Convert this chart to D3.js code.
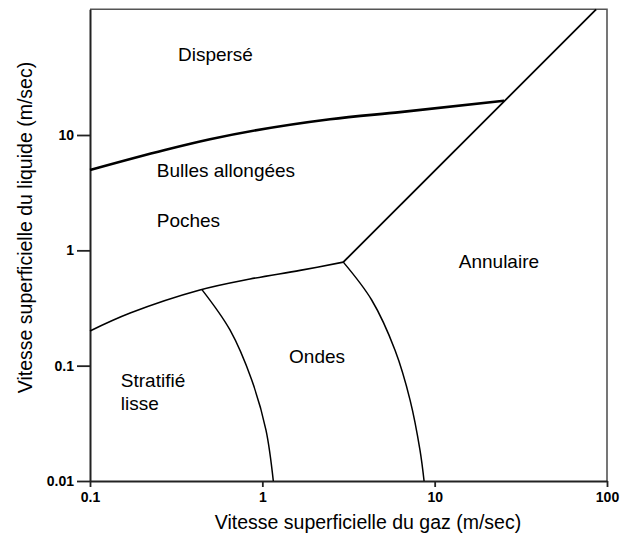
<!DOCTYPE html>
<html>
<head>
<meta charset="utf-8">
<script src="https://cdn.jsdelivr.net/npm/d3@7"></script>
<style>
  html, body { margin: 0; padding: 0; background: #fff; }
  svg { display: block; font-family: "Liberation Sans", Arial, sans-serif; }
</style>
</head>
<body>
<svg id="chart" width="620" height="533"></svg>
<script>
// ---- Data ----
const xTickValues = [0.1, 1, 10, 100];
const xTickLabels = ["0.1", "1", "10", "100"];
const yTickValues = [0.01, 0.1, 1, 10];
const yTickLabels = ["0.01", "0.1", "1", "10"];
const xDomain = [0.1, 100];
const yDomain = [0.01, 123];

// Dispersé / Bulles allongées boundary
const dispersedX = [0.1, 0.272, 0.497, 2.47, 6.3, 25.3];
const dispersedY = [4.97, 7.41, 9.18, 13.7, 15.8, 19.8];
// Annulaire boundary (straight line in log-log)
const annularX = [2.95, 86.5];
const annularY = [0.79, 123];
// Poches / Stratifié-Ondes boundary
const slugLowX = [0.1, 0.171, 0.434, 0.848, 1.655, 2.95];
const slugLowY = [0.2, 0.286, 0.453, 0.564, 0.67, 0.79];
// Stratifié lisse / Ondes boundary
const wavyX = [0.445, 0.649, 0.868, 1.05, 1.158];
const wavyY = [0.459, 0.204, 0.075, 0.0276, 0.01];
// Ondes / Annulaire boundary
const annLowX = [2.95, 4.31, 5.89, 7.2, 8.22, 8.68];
const annLowY = [0.79, 0.371, 0.136, 0.0503, 0.0185, 0.01];

// Regime labels (anchored at data coordinates)
const regimeNames = ["Dispersé", "Bulles allongées", "Poches", "Annulaire", "Ondes", "Stratifié", "lisse"];
const regimeX = [0.324, 0.244, 0.244, 13.8, 1.43, 0.151, 0.151];
const regimeY = [44, 4.3, 1.6, 0.707, 0.105, 0.065, 0.0413];

const xTitle = "Vitesse superficielle du gaz (m/sec)";
const yTitle = "Vitesse superficielle du liquide (m/sec)";

// ---- Drawing ----
const svg = d3.select("#chart");
const mLeft = 90, mRight = 607, mTop = 9.3, mBottom = 481;

const x = d3.scaleLog().domain(xDomain).range([mLeft, mRight]);
const y = d3.scaleLog().domain(yDomain).range([mBottom, mTop]);

// frame (top/right)
svg.append("path")
  .attr("d", `M${mLeft},${mTop}H${mRight}V${mBottom}`)
  .attr("fill", "none").attr("stroke", "#555").attr("stroke-width", 1.6);

// axes
const xAxis = d3.axisBottom(x).tickValues(xTickValues)
  .tickFormat((d, i) => xTickLabels[i]).tickSize(6).tickSizeOuter(0).tickPadding(5.5);
const yAxis = d3.axisLeft(y).tickValues(yTickValues)
  .tickFormat((d, i) => yTickLabels[i]).tickSize(13).tickSizeOuter(0).tickPadding(3);

const gx = svg.append("g").attr("transform", `translate(0,${mBottom})`).call(xAxis);
const gy = svg.append("g").attr("transform", `translate(${mLeft},0)`).call(yAxis);
[gx, gy].forEach(g => {
  g.select(".domain").attr("stroke", "#222").attr("stroke-width", 2);
  g.selectAll(".tick line").attr("stroke", "#222").attr("stroke-width", 1.8);
  g.selectAll(".tick text").attr("fill", "#000")
    .style("font-family", "'Liberation Sans', Arial, sans-serif")
    .style("font-size", "14px").style("font-weight", "bold");
});

// curves
const zip = (a, b) => a.map((v, i) => [v, b[i]]);
const mkLine = c => d3.line().x(d => x(d[0])).y(d => y(d[1])).curve(c);

svg.append("path").datum(zip(dispersedX, dispersedY))
  .attr("d", mkLine(d3.curveMonotoneX))
  .attr("fill", "none").attr("stroke", "#000").attr("stroke-width", 2.6);

svg.append("path").datum(zip(annularX, annularY))
  .attr("d", mkLine(d3.curveLinear))
  .attr("fill", "none").attr("stroke", "#000").attr("stroke-width", 1.8);

svg.append("path").datum(zip(slugLowX, slugLowY))
  .attr("d", mkLine(d3.curveCatmullRom))
  .attr("fill", "none").attr("stroke", "#000").attr("stroke-width", 1.6);

svg.append("path").datum(zip(wavyX, wavyY))
  .attr("d", mkLine(d3.curveCatmullRom))
  .attr("fill", "none").attr("stroke", "#000").attr("stroke-width", 1.5);

svg.append("path").datum(zip(annLowX, annLowY))
  .attr("d", mkLine(d3.curveCatmullRom))
  .attr("fill", "none").attr("stroke", "#000").attr("stroke-width", 1.5);

// regime labels
svg.selectAll("text.regime").data(regimeNames).enter().append("text")
  .attr("class", "regime")
  .attr("x", (d, i) => x(regimeX[i]))
  .attr("y", (d, i) => y(regimeY[i]))
  .attr("fill", "#000")
  .style("font-size", "19px")
  .text(d => d);

// axis titles
svg.append("text")
  .attr("x", 368).attr("y", 529)
  .attr("text-anchor", "middle").attr("fill", "#000")
  .style("font-size", "19.5px")
  .text(xTitle);

svg.append("text")
  .attr("transform", "translate(31.5,227.5) rotate(-90)")
  .attr("text-anchor", "middle").attr("fill", "#000")
  .style("font-size", "19.5px")
  .text(yTitle);
</script>
</body>
</html>
